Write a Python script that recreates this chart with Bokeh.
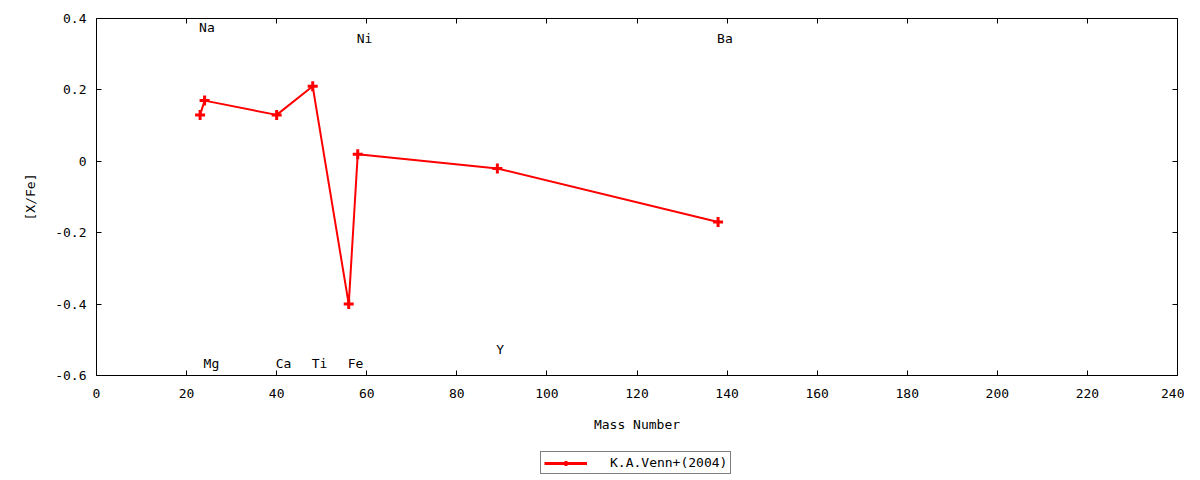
from bokeh.plotting import figure
from bokeh.layouts import column
from bokeh.models import (ColumnDataSource, LinearAxis, Range1d, FixedTicker,
                          Legend, LegendItem, CustomJSTickFormatter)
from bokeh.core.properties import value
from bokeh.embed import file_html
from bokeh.resources import INLINE

# ---- data ----
elements = ["Na", "Mg", "Ca", "Ti", "Fe", "Ni", "Y", "Ba"]
mass = [23, 24, 40, 48, 56, 58, 89, 138]
xfe = [0.13, 0.17, 0.13, 0.21, -0.40, 0.02, -0.02, -0.17]
label_y = [0.375, -0.566, -0.566, -0.566, -0.566, 0.344, -0.527, 0.344]
x_ticks = [0, 20, 40, 60, 80, 100, 120, 140, 160, 180, 200, 220, 240]
y_ticks = [-0.6, -0.4, -0.2, 0, 0.2, 0.4]
y_tick_labels = ["-0.6", "-0.4", "-0.2", "0", "0.2", "0.4"]
series_name = "K.A.Venn+(2004)"

FONT = "DejaVu Sans Mono"
FS = "13px"
RED = "#ff0000"

src = ColumnDataSource(dict(x=mass, y=xfe))
lab = ColumnDataSource(dict(x=mass, y=label_y, t=elements))

p = figure(width=1184, height=440, output_backend="svg", toolbar_location=None,
           x_range=Range1d(0, 240), y_range=Range1d(-0.6, 0.4),
           min_border_left=96, min_border_right=7, min_border_top=18,
           min_border_bottom=65)
p.grid.visible = False
p.outline_line_color = "black"
p.outline_line_width = 1
p.background_fill_color = "white"
p.border_fill_color = "white"

def style_axis(ax, show_labels=True):
    ax.axis_line_color = None
    ax.major_tick_in = 5
    ax.major_tick_out = 0
    ax.minor_tick_line_color = None
    ax.major_tick_line_color = "black"
    ax.major_label_text_font = FONT
    ax.major_label_text_font_size = FS
    ax.major_label_text_color = "black"
    ax.axis_label_text_font = FONT
    ax.axis_label_text_font_size = FS
    ax.axis_label_text_font_style = "normal"
    ax.axis_label_text_color = "black"
    if not show_labels:
        ax.formatter = CustomJSTickFormatter(code="return ''")

xa = p.xaxis[0]
xa.ticker = FixedTicker(ticks=x_ticks)
xa.axis_label = "Mass Number"
xa.major_label_standoff = 13
xa.axis_label_standoff = 16
style_axis(xa)

ya = p.yaxis[0]
ya.ticker = FixedTicker(ticks=y_ticks)
ya.major_label_overrides = {t: s for t, s in zip(y_ticks, y_tick_labels)}
ya.axis_label = "[X/Fe]"
ya.major_label_standoff = 10
ya.axis_label_standoff = 14
style_axis(ya)

top = LinearAxis(ticker=FixedTicker(ticks=x_ticks))
style_axis(top, False)
p.add_layout(top, "above")
right = LinearAxis(ticker=FixedTicker(ticks=y_ticks))
style_axis(right, False)
p.add_layout(right, "right")

p.line("x", "y", source=src, line_color=RED, line_width=2)
p.scatter("x", "y", source=src, marker="cross", size=10,
          line_color=RED, line_width=3)

p.text("x", "y", text="t", source=lab, text_font=value(FONT),
       text_font_size=FS, text_align="left", text_baseline="middle",
       text_color="black", x_offset=-1)

# ---- legend strip below the plot (same series, view range kept empty) ----
lf = figure(width=1184, height=36, output_backend="svg", toolbar_location=None,
            x_range=Range1d(-2, -1), y_range=Range1d(-2, -1),
            x_axis_location=None, y_axis_location=None, min_border=0)
lf.grid.visible = False
lf.outline_line_color = None
lln = lf.line("x", "y", source=src, line_color=RED, line_width=3)
lsc = lf.scatter("x", "y", source=src, marker="cross", size=10,
                 line_color=RED, line_width=3)
legend = Legend(items=[LegendItem(label=series_name, renderers=[lln, lsc])],
                location=(444, 2), orientation="horizontal",
                border_line_color="black", border_line_width=1,
                background_fill_color="white", background_fill_alpha=1,
                label_text_font=FONT, label_text_font_size=FS,
                label_text_color="black", label_height=13,
                glyph_width=43, glyph_height=12, padding=3, spacing=0,
                label_standoff=23, margin=0)
lf.add_layout(legend, "center")

layout = column(p, lf, spacing=0)
open("out.html", "w").write(file_html(layout, INLINE))
